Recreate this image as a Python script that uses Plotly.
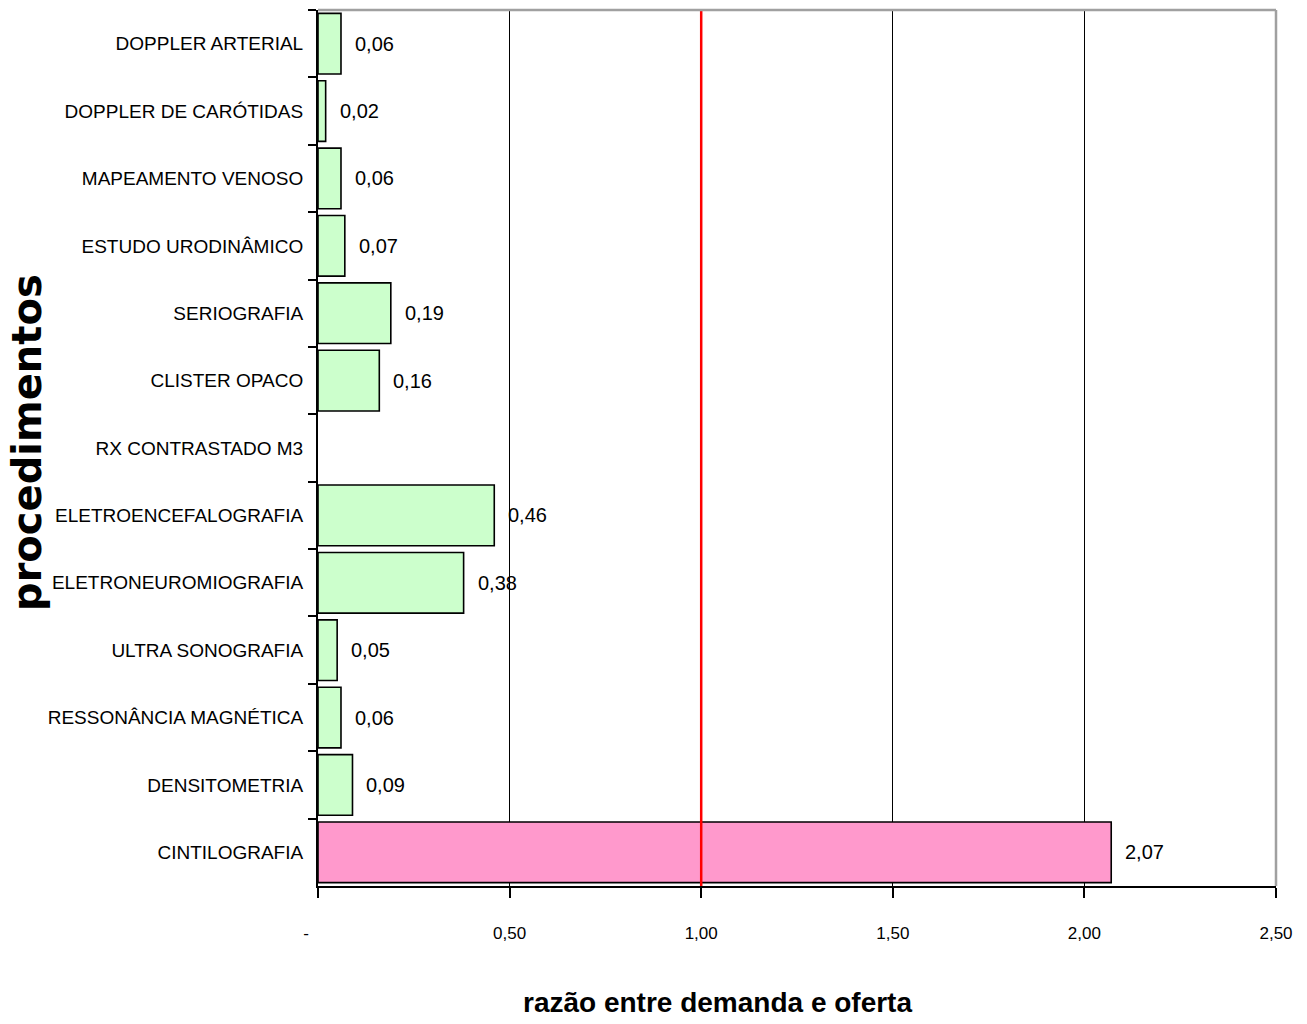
import plotly.graph_objects as go

# Procedures (top to bottom) and demand/supply ratio
procedimentos = [
    "DOPPLER ARTERIAL",
    "DOPPLER DE CARÓTIDAS",
    "MAPEAMENTO VENOSO",
    "ESTUDO URODINÂMICO",
    "SERIOGRAFIA",
    "CLISTER OPACO",
    "RX CONTRASTADO M3",
    "ELETROENCEFALOGRAFIA",
    "ELETRONEUROMIOGRAFIA",
    "ULTRA SONOGRAFIA",
    "RESSONÂNCIA MAGNÉTICA",
    "DENSITOMETRIA",
    "CINTILOGRAFIA",
]
razao = [0.06, 0.02, 0.06, 0.07, 0.19, 0.16, None, 0.46, 0.38, 0.05, 0.06, 0.09, 2.07]

tick_vals = [0, 0.5, 1.0, 1.5, 2.0, 2.5]
tick_text = ["-\u00a0\u00a0\u00a0\u00a0\u00a0", "0,50", "1,00", "1,50", "2,00", "2,50"]

LIMITE = 1.0  # ratio of balance between demand and supply

SANS = "Liberation Sans, Arial, sans-serif"

colors = ["#FF99CC" if (v is not None and v > LIMITE) else "#CCFFCC" for v in razao]

fig = go.Figure()
fig.add_trace(go.Bar(
    x=razao,
    y=procedimentos,
    orientation="h",
    marker=dict(color=colors, line=dict(color="#000000", width=1.6)),
    showlegend=False,
    hoverinfo="x+y",
))

# value labels beside each bar
for p, v in zip(procedimentos, razao):
    if v is None:
        continue
    fig.add_annotation(
        x=v, y=p, xref="x", yref="y",
        text=f"{v:.2f}".replace(".", ","),
        xanchor="left", yanchor="middle", xshift=12,
        showarrow=False,
        font=dict(family=SANS, size=20, color="#000000"),
    )

# reference line at ratio 1
fig.add_shape(
    type="line", xref="x", yref="paper",
    x0=LIMITE, x1=LIMITE, y0=0, y1=1,
    line=dict(color="#FF0000", width=2.5),
    layer="above",
)

# axis titles
fig.add_annotation(
    x=(717 - 318) / 958, y=(886 - 1002) / 876, xref="paper", yref="paper",
    text="<b>razão entre demanda e oferta</b>",
    showarrow=False, xanchor="center", yanchor="middle",
    font=dict(family=SANS, size=28, color="#000000"),
)
fig.add_annotation(
    x=(27 - 318) / 958, y=(886 - 443) / 876, xref="paper", yref="paper",
    text="<b>procedimentos</b>",
    showarrow=False, xanchor="center", yanchor="middle", textangle=-90,
    font=dict(family="DejaVu Sans, Verdana, sans-serif", size=40, color="#000000"),
)

fig.update_layout(
    width=1307, height=1024,
    margin=dict(l=318, r=31, t=10, b=138),
    plot_bgcolor="#FFFFFF",
    paper_bgcolor="#FFFFFF",
    bargap=0.1,
    xaxis=dict(
        range=[0, 2.5],
        tickvals=tick_vals, ticktext=tick_text,
        showgrid=True, gridcolor="#000000", gridwidth=1.2,
        showline=True, linecolor="#000000", linewidth=2,
        ticks="outside", ticklen=10, tickcolor="#000000", tickwidth=1.5,
        tickfont=dict(family=SANS, size=17, color="#000000"),
        ticklabelstandoff=21,
        zeroline=False,
        automargin=False,
        fixedrange=True,
    ),
    yaxis=dict(
        autorange="reversed",
        type="category",
        showline=True, linecolor="#000000", linewidth=2,
        ticks="outside", ticklen=8, tickcolor="#000000", tickwidth=1.5,
        tickson="boundaries",
        tickfont=dict(family=SANS, size=19, color="#000000"),
        ticklabelstandoff=9,
        showgrid=False,
        automargin=False,
        fixedrange=True,
    ),
)

# light grey frame on the top and right edges of the plot area
fig.add_shape(type="line", xref="paper", yref="paper", x0=0, x1=1, y0=1, y1=1,
              line=dict(color="#A0A0A0", width=2.5), layer="above")
fig.add_shape(type="line", xref="paper", yref="paper", x0=1, x1=1, y0=0, y1=1,
              line=dict(color="#A0A0A0", width=2.5), layer="above")

fig.write_html("out.html")
